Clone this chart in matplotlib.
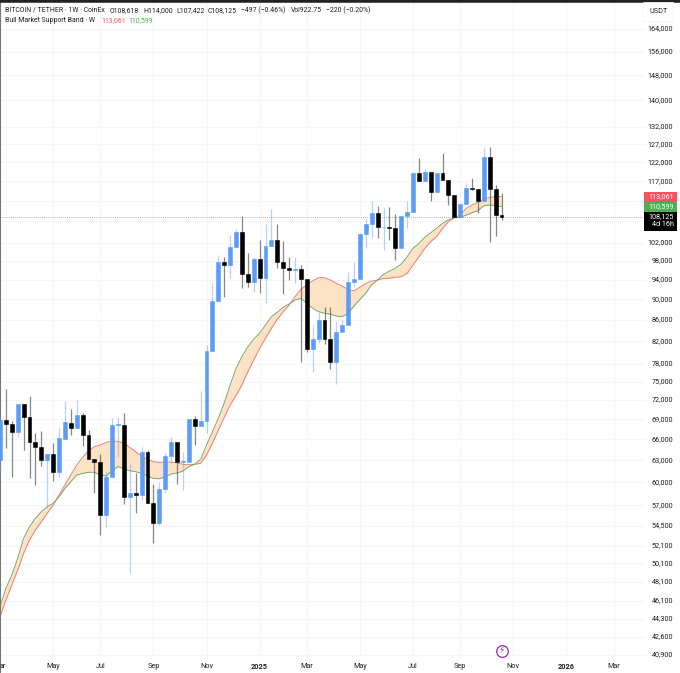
import matplotlib
matplotlib.use("Agg")
import matplotlib.pyplot as plt
from matplotlib.patches import Rectangle
import numpy as np

plt.rcParams['font.family'] = ['Roboto', 'DejaVu Sans']

opens = [63020,68870,68300,67120,71310,69280,65640,64820,63020,63900,61410,66100,68470,67700,69590,66620,63160,62740,55780,60730,
68060,68160,58090,58610,58320,64190,57250,54760,59090,63580,65540,62740,62740,68980,67910,68720,80320,89750,97860,97150,
101100,104450,95220,93610,98380,94450,101260,102680,97730,96430,96140,96290,94170,80630,82490,85990,82380,78280,83670,84960,
93610,94230,104060,106400,109020,105620,105700,105460,100880,108360,109190,119050,117110,119400,114140,119200,117300,113470,108150,111150,
115300,115100,112050,123540,114900,108618]
highs = [69500,73720,68770,71310,71310,72680,66870,67210,63900,65400,67610,71880,70570,71990,69900,67360,63160,63860,61410,69130,
69380,69900,62560,61180,64910,64430,59750,60060,64050,66370,65540,64190,68980,69490,73500,81340,93270,99320,98950,103830,
105150,108310,99830,98950,102680,106400,110000,106400,102520,98810,98950,97150,94170,84960,87590,88570,88450,85860,85990,95700,
97860,104220,107750,112050,110810,110160,110560,108780,108360,112000,119300,123250,120100,119480,119200,124450,117300,113470,111400,116440,
117900,115100,125830,126290,116000,114000]
lows = [61000,64670,60730,66370,64430,60510,59620,62230,56610,60190,60730,66100,66620,67700,65050,63160,58530,53360,54270,60730,
63400,57160,49000,56070,57670,57250,52460,54550,58530,62560,59750,58960,62740,65150,67910,66870,80320,89750,90420,94320,
101100,92370,92580,91560,91230,89340,101260,96430,91090,93960,93400,78280,80150,76660,81640,81530,77070,74550,83670,84960,
92580,94230,100810,103070,103070,100430,102680,98230,100880,105390,109190,117110,117110,111970,114140,117300,110980,107950,107750,111150,
114730,108950,112050,102160,103600,107422]
closes = [68870,68260,67120,71310,69280,65640,64820,63020,63900,61410,66220,68520,67700,69590,66620,63160,62740,55780,60730,68060,
68210,58090,58610,58320,64190,57250,54760,59090,63580,65540,62740,62830,68980,67910,68720,80320,89750,97860,97150,101100,
104450,95220,93610,98380,94450,101260,102680,97730,96430,96140,96290,94170,80630,82490,85990,82380,78280,83670,84960,93610,
94230,104060,106400,109020,105620,105700,105460,100880,108360,109190,119050,117110,119400,114140,119200,117300,113470,108150,111150,115160,
115100,112050,123540,114900,108520,108125]
band_red = [44510,46190,47760,49370,51230,52770,53950,54950,56000,57030,58310,59620,60960,62330,63400,64330,64910,65150,65540,65730,
65690,65400,64820,64190,63580,63120,62790,62700,62740,62740,62650,62420,62370,62420,62560,63720,65400,67360,69280,71190,
72700,74430,76660,78680,80750,82560,84410,86120,87590,88900,90540,92040,92930,93810,94450,94450,93960,93270,92720,92040,
91760,92450,93270,93750,93960,94320,94320,94530,94670,95370,97150,98950,100810,102300,103450,105390,106950,107900,108520,110160,
110980,111640,112390,112900,113050,113061]
band_green = [45510,47410,48830,50670,52970,54350,55360,56190,56820,57250,58090,59180,60060,60960,61180,61330,61330,60960,60820,61540,
62100,61820,61540,61410,61180,60860,60510,60460,60730,61090,61230,61500,62100,62460,63120,65150,67110,69130,71510,74430,
77200,79300,81000,82400,83500,85040,86620,87470,88450,89090,89880,90220,89230,88250,87590,87280,87080,86750,86620,87280,
88700,90000,91300,93000,93960,95160,95860,96430,97370,98950,100810,101930,103310,104360,105390,106550,107350,107900,107950,108520,
109100,109590,110810,110980,110810,110599]

price_ticks = [164000,156000,148000,140000,132000,127000,122000,117000,102000,98000,94000,90000,86000,82000,78000,75000,72000,69000,
66000,63000,60000,57000,54500,52100,50100,48100,46100,44300,42600,40900]
grid_prices = price_ticks + [112000, 107000]
month_labels = ['ar','May','Jul','Sep','Nov','2025','Mar','May','Jul','Sep','Nov','2026','Mar']
month_weeks = [0,9,17,26,35,44,52,61,70,78,87,96,104]

BLUE='#5b9cf6'; BLACK='#000000'; RED='#f7525f'; GREEN='#4caf50'; INK='#1c1f28'
W,H=680,673
fig=plt.figure(figsize=(W/100,H/100),dpi=100,facecolor='white')
ax=fig.add_axes([0,0,1,1])
ax.set_yscale('log')
ax.set_xlim(0,W/5.9)
ax.set_ylim(39290,174900)
ax.minorticks_off()
xs=np.arange(len(opens))
o,h,l,c=map(np.array,(opens,highs,lows,closes))
up=c>=o

ax.set_yticks(grid_prices)
ax.set_yticklabels([])
ax.set_xticks(month_weeks)
ax.set_xticklabels([])
ax.tick_params(length=0)
ax.grid(True,color='#f6f6f8',lw=0.8,zorder=0.5)
ax.set_axisbelow(True)
for s in ax.spines.values(): s.set_visible(False)
ax.spines['top'].set_visible(True); ax.spines['top'].set_color('#222222'); ax.spines['top'].set_linewidth(4)
ax.spines['left'].set_visible(True); ax.spines['left'].set_color('#777777'); ax.spines['left'].set_linewidth(1.5)

# margins where the grid stops (right price scale, bottom time scale)
ax.add_patch(Rectangle((645/W,0),35/W,1,transform=ax.transAxes,color='white',lw=0,zorder=1))
ax.add_patch(Rectangle((0,0),1,(H-658)/H,transform=ax.transAxes,color='white',lw=0,zorder=1))

# band
ax.fill_between(xs,band_red,band_green,color='#fde3c6',lw=0,zorder=1.5)
ax.plot(xs,band_red,color='#ef7d74',lw=0.7,zorder=2)
ax.plot(xs,band_green,color='#77a86c',lw=0.7,zorder=2)

# last price line
ax.plot([0,645/5.9],[closes[-1]]*2,color='#9a9a9a',lw=0.6,ls=(0,(1,1.5)),zorder=1.8)

# candles
ax.vlines(xs[up],l[up],h[up],color=BLUE,alpha=0.45,lw=0.9,zorder=3)
ax.vlines(xs[~up],l[~up],h[~up],color='#555555',alpha=0.7,lw=0.9,zorder=3)
ax.bar(xs[up],(c-o)[up],bottom=o[up],width=0.66,color=BLUE,edgecolor=BLUE,lw=0.4,zorder=4)
ax.bar(xs[~up],(o-c)[~up],bottom=c[~up],width=0.66,color=BLACK,edgecolor=BLACK,lw=0.4,zorder=4)

# right-hand price labels
trans=ax.get_yaxis_transform()
fs=5.2
hfs=4.95
for p in price_ticks:
    ax.text(673/W,p,f'{p:,}',transform=trans,ha='right',va='center',fontsize=fs,color=INK,zorder=6)
fig.text(667.5/W,1-11.5/H,'USDT',ha='right',va='center',fontsize=fs,color=INK,
         bbox=dict(boxstyle='square,pad=0.8',fc='white',ec='#f3f3f3',lw=0.5))

# x labels
xtrans=ax.get_xaxis_transform()
for w,lab in zip(month_weeks,month_labels):
    bold=lab.isdigit()
    ax.text(w,1-667/H,lab,transform=xtrans,ha='left' if lab=='ar' else 'center',va='center',fontsize=fs,
            color=INK,fontweight='bold' if bold else 'normal')

# price tags
def tag(y0,y1,col):
    fig.add_artist(Rectangle((644/W,1-y1/H),33/W,(y1-y0)/H,transform=fig.transFigure,color=col,lw=0,zorder=7))
tag(191.5,202,RED); tag(202,212,GREEN); tag(212,230.5,BLACK)
for y,t in [(197,f'{band_red[-1]:,}'),(207,f'{band_green[-1]:,}'),(216.8,f'{closes[-1]:,}'),(225,'4d 16h')]:
    fig.text(674/W,1-y/H,t,ha='right',va='center',fontsize=fs,color='white',zorder=8)

# header
hdr=[(5,'BITCOIN / TETHER · 1W · CoinEx'),(110,'O108,618'),(143,'H114,000'),
     (176,'L107,422'),(208,'C108,125'),(241,'−497 (−0.46%)'),(291,'Vol922.75'),(326,'−220 (−0.20%)')]
for x,t in hdr:
    fig.text(x/W,1-10.5/H,t,ha='left',va='center',fontsize=hfs,color=INK)
fig.text(5/W,1-21/H,'Bull Market Support Band · W',ha='left',va='center',fontsize=hfs,color=INK)
fig.text(101/W,1-21/H,f'{band_red[-1]:,}',ha='left',va='center',fontsize=hfs,color=RED)
fig.text(128/W,1-21/H,f'{band_green[-1]:,}',ha='left',va='center',fontsize=hfs,color=GREEN)

# event icon
ax.scatter([85],[41260],s=70,facecolor='white',edgecolor='#9c27b0',lw=0.9,zorder=6)
ax.text(85,41260,'⚡',ha='center',va='center',fontsize=6.5,color='#9c27b0',zorder=7,family=['DejaVu Sans'])

fig.savefig('out.png',dpi=100,facecolor='white')
